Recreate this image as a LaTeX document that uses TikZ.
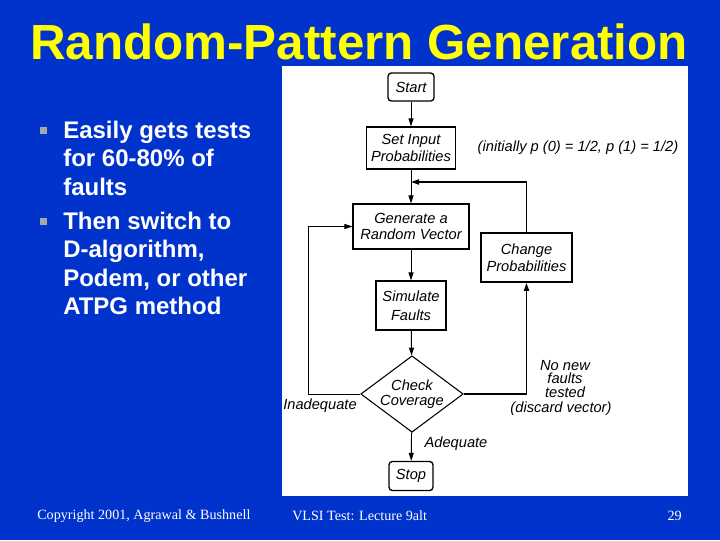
\documentclass[tikz,border=0pt]{standalone}
\usepackage{fontspec}
\setmainfont{Liberation Sans}
\newfontfamily\serifft{Liberation Serif}
\usetikzlibrary{shapes.geometric,arrows.meta}
\definecolor{slideblue}{HTML}{0033CC}
\definecolor{titleyellow}{HTML}{FFFF00}
\definecolor{bulletgray}{HTML}{A8A8A8}
\tikzset{
  fbox/.style={draw=black,line width=0.8pt,fill=white,align=center,inner sep=1pt,
    font=\fontsize{11}{12.5}\selectfont\itshape},
  termbox/.style={fbox,rounded corners=2.5pt,line width=1pt},
  lbl/.style={align=center,font=\fontsize{11}{10}\selectfont\itshape,inner sep=0pt},
  conn/.style={line width=0.7pt,-{Triangle[length=6pt,width=3.8pt]}},
  thick conn/.style={line width=1.3pt,-{Triangle[length=6pt,width=3.8pt]}},
  bul/.style={font=\fontsize{18}{21.4}\selectfont\bfseries,text=white,anchor=north west,
    align=left,inner sep=0pt},
  foot/.style={font=\serifft\fontsize{10.6}{12}\selectfont,text=white,inner sep=0pt},
}
\begin{document}
\begin{tikzpicture}[x=0.75pt,y=-0.75pt]
\useasboundingbox (0,0) rectangle (720,540);
\fill[slideblue] (0,0) rectangle (720,540);
\fill[white] (282,66) rectangle (688,496);
% title
\node[text=titleyellow,font=\fontsize{37}{40}\selectfont\bfseries,inner sep=0pt] (title) at (359,42) {Random-Pattern Generation};
% bullets
\fill[bulletgray] (39.5,127) rectangle (46.5,134);
\fill[bulletgray] (39.5,218) rectangle (46.5,225);
\node[bul] (b1) at (63,120.5) {Easily gets tests\\for 60-80\%\ of\\faults};
\node[bul] (b2) at (63,211.5) {Then switch to\\D-algorithm,\\Podem, or other\\ATPG method};
% footer
\node[foot,anchor=west] (f1) at (37,516) {Copyright 2001, Agrawal \& Bushnell};
\node[foot,anchor=west] (f2) at (292,516) {VLSI Test: Lecture 9alt};
\node[foot,anchor=east] (f3) at (682,516) {29};
% flowchart
\node[termbox,minimum width=34.5pt,minimum height=21pt] (start) at (411,87) {Start};
\node[fbox,minimum width=66.75pt,minimum height=31.5pt] (setin) at (411,148) {Set Input\\Probabilities};
\node[lbl] (init) at (578,148) {(initially \textit{p} (0) = 1/2, \textit{p} (1) = 1/2)};
\node[fbox,minimum width=87pt,minimum height=33.75pt] (gen) at (411,226.5) {Generate a\\Random Vector};
\node[fbox,line width=1.2pt,minimum width=68.25pt,minimum height=36.75pt] (chg) at (526.5,257.5) {Change\\Probabilities};
\node[fbox,minimum width=52.5pt,minimum height=36.75pt,font=\fontsize{11}{14.5}\selectfont\itshape] (sim) at (411,305.5) {Simulate\\Faults};
\node[diamond,draw=black,line width=0.8pt,fill=white,aspect=1.34,inner sep=0pt,
  minimum width=76.5pt,minimum height=57pt,align=center,
  font=\fontsize{11}{11.5}\selectfont\itshape] (chk) at (412,394) {Check\\Coverage};
\node[termbox,minimum width=33pt,minimum height=21.75pt] (stop) at (411,476) {Stop};
\node[lbl] (inad) at (320,406) {Inadequate};
\node[lbl,font=\fontsize{11}{9.8}\selectfont\itshape] (nonew) at (565,379) {No new\\faults\\tested};
\node[lbl] (disc) at (561,409) {(discard vector)};
\node[lbl] (adeq) at (456,444) {Adequate};
\coordinate (lt) at (308,394);
\coordinate (lg) at (308,226.5);
\coordinate (rt) at (526.5,394);
\coordinate (tp) at (526.5,182);
\coordinate (jn) at (411,182);
\draw[conn] (start) -- (setin);
\draw[conn] (setin) -- (gen);
\draw[conn] (gen) -- (sim);
\draw[conn] (sim) -- (chk);
\draw[conn] (chk) -- (stop);
\draw[conn] (chk.west) -- (lt) -- (lg) -- (gen.west);
\draw[thick conn] (chk.east) -- (rt) -- (chg.south);
\draw[thick conn] (chg.north) -- (tp) -- (jn);
\end{tikzpicture}
\end{document}
